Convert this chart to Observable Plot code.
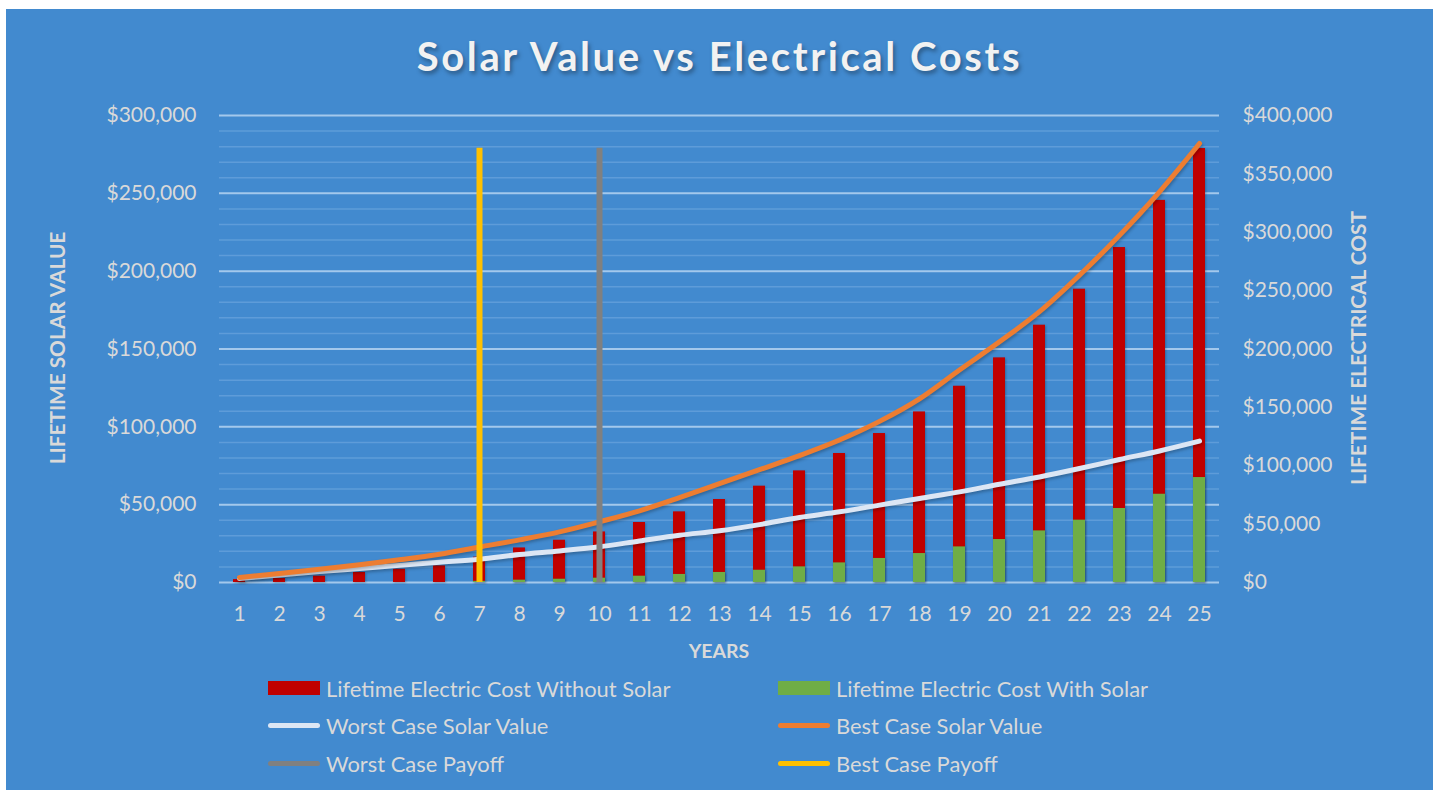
<!DOCTYPE html>
<html>
<head>
<meta charset="utf-8">
<script src="https://cdn.jsdelivr.net/npm/d3@7"></script>
<script src="https://cdn.jsdelivr.net/npm/@observablehq/plot@0.6"></script>
<style>
  html, body { margin: 0; padding: 0; background: #ffffff; }
  body { width: 1437px; height: 790px; position: relative; overflow: hidden; font-family: Lato, "Open Sans", sans-serif; }
  #panel { position: absolute; left: 6px; top: 9px; width: 1427px; height: 781px; background: #428ACF; }
  #title { position: absolute; left: 0; width: 1427px; top: 23px; text-align: center; color: #F2F2F2;
           font-weight: bold; font-size: 40px; letter-spacing: 2.6px; text-shadow: 2px 3px 4px rgba(0,0,0,0.35); }
  #chart { position: absolute; left: 0; top: 0; }
  #chart svg g[aria-label="bar"] rect { filter: drop-shadow(1px 1px 1px rgba(0,0,0,0.25)); }
  #chart svg g[aria-label="line"] path { filter: drop-shadow(1px 2px 1.5px rgba(0,0,0,0.25)); }
  .ytitle { position: absolute; color: #D9D9D9; font-weight: bold; font-size: 20.8px; white-space: nowrap; }
  #xtitle { position: absolute; color: #D9D9D9; font-weight: bold; font-size: 19.5px; }
  .leg { position: absolute; display: flex; align-items: center; color: #D9D9D9; font-size: 21.9px; white-space: nowrap; }
  .sw { width: 52px; margin-right: 6px; }
</style>
</head>
<body>
<div id="panel">
  <div id="title">Solar Value vs Electrical Costs</div>
  <div id="chart"></div>
</div>
<script>
// ---- data ----
const years = [1,2,3,4,5,6,7,8,9,10,11,12,13,14,15,16,17,18,19,20,21,22,23,24,25];
// right axis (lifetime electrical cost)
const costWithoutSolar = [2500,3400,5400,8600,11300,14200,21700,29600,36200,43300,51400,60500,71100,82500,95600,110500,127600,146100,168100,192400,220400,251200,286900,327300,371700];
const costWithSolar = [0,0,0,0,0,0,1000,2000,2800,3700,5400,6900,8600,10500,13400,16800,20600,24800,30500,36800,44200,53400,63400,75600,89900];
// left axis (lifetime solar value)
const bestCaseValue = [3200,5800,8500,11400,14600,18200,22800,27400,32500,39000,46000,54500,63500,72500,81500,91500,103500,118000,136500,154600,174000,197400,223000,251000,282000];
const worstCaseValue = [2600,4800,7000,9000,11000,13000,15000,18000,20300,22900,26700,30400,33200,37200,41800,45400,49700,54000,58200,63100,67800,73200,79000,84500,90800];
// payoff markers
const payoffYears = [10, 7];
const payoffNames = ["Worst Case Payoff", "Best Case Payoff"];
const payoffTop = 279000;
// tick labels
const leftTicks = [0,50000,100000,150000,200000,250000,300000];
const rightTicks = [0,50000,100000,150000,200000,250000,300000,350000,400000];
const minorGrid = [10000,20000,30000,40000,60000,70000,80000,90000,110000,120000,130000,140000,160000,170000,180000,190000,210000,220000,230000,240000,260000,270000,280000,290000];

const leftMax = 300000, rightMax = 400000;
const k = leftMax / rightMax; // right-axis values expressed on the left scale

const rows = years.map((y, i) => ({
  year: y,
  without: costWithoutSolar[i],
  withS: costWithSolar[i],
  best: bestCaseValue[i],
  worst: worstCaseValue[i]
}));
const payoffs = payoffYears.map((y, i) => ({year: y, name: payoffNames[i], top: payoffTop}));
const payoffColors = {"Worst Case Payoff": "#808080", "Best Case Payoff": "#FFC000"};

const money = d3.format(",");

const chart = Plot.plot({
  width: 1427,
  height: 660,
  marginLeft: 213,
  marginRight: 214,
  marginTop: 106,
  marginBottom: 87,
  style: {background: "transparent", color: "#D9D9D9", fontFamily: "Lato, 'Open Sans', sans-serif", fontSize: "21px", overflow: "visible"},
  x: {type: "band", domain: years, paddingInner: 0.7, paddingOuter: 0.35},
  y: {domain: [0, leftMax]},
  marks: [
    Plot.ruleY(minorGrid, {stroke: "#5E9CD9", strokeWidth: 1.5}),
    Plot.ruleY(leftTicks, {stroke: "#A3C8EC", strokeWidth: 2}),
    Plot.barY(rows, {x: "year", y: d => d.without * k, fill: "#C00000"}),
    Plot.barY(rows, {x: "year", y: d => d.withS * k, fill: "#6FAD46"}),
    Plot.line(rows, {x: "year", y: "worst", stroke: "#DCE6F4", strokeWidth: 5, curve: "monotone-x", strokeLinecap: "round"}),
    Plot.line(rows, {x: "year", y: "best", stroke: "#ED7D31", strokeWidth: 5, curve: "monotone-x", strokeLinecap: "round"}),
    Plot.ruleX(payoffs, {x: "year", y1: 0, y2: "top", stroke: d => payoffColors[d.name], strokeWidth: 6}),
    Plot.axisX({tickSize: 0, tickPadding: 24, label: null}),
    Plot.axisY(leftTicks, {anchor: "left", tickSize: 0, tickPadding: 23, label: null, tickFormat: d => "$" + money(d)}),
    Plot.axisY(rightTicks.map(d => d * k), {anchor: "right", tickSize: 0, tickPadding: 23, label: null, tickFormat: d => "$" + money(Math.round(d / k))})
  ]
});
document.getElementById("chart").append(chart);

const panel = document.getElementById("panel");
function addText(cls, text) {
  const el = document.createElement("div");
  el.className = cls; el.textContent = text;
  panel.append(el);
  return el;
}
// axis titles (positions relative to panel at 6,9)
const lt = addText("ytitle", "LIFETIME SOLAR VALUE");
lt.style.left = (56 - 6) + "px"; lt.style.top = (348 - 9) + "px";
lt.style.transform = "translate(-50%,-50%) rotate(-90deg)";
const rt = addText("ytitle", "LIFETIME ELECTRICAL COST");
rt.style.left = (1357 - 6) + "px"; rt.style.top = (348 - 9) + "px";
rt.style.transform = "translate(-50%,-50%) rotate(-90deg)";
const xt = addText("", "YEARS");
xt.id = "xtitle"; xt.style.left = (719 - 6) + "px"; xt.style.top = (650 - 9) + "px"; xt.style.transform = "translate(-50%,-50%)";

// legend
const legendItems = [
  {label: "Lifetime Electric Cost Without Solar", color: "#C00000", kind: "bar", x: 268, y: 688},
  {label: "Lifetime Electric Cost With Solar", color: "#6FAD46", kind: "bar", x: 778, y: 688},
  {label: "Worst Case Solar Value", color: "#DCE6F4", kind: "line", x: 268, y: 725},
  {label: "Best Case Solar Value", color: "#ED7D31", kind: "line", x: 778, y: 725},
  {label: "Worst Case Payoff", color: "#808080", kind: "line", x: 268, y: 763},
  {label: "Best Case Payoff", color: "#FFC000", kind: "line", x: 778, y: 763}
];
for (const it of legendItems) {
  const el = document.createElement("div");
  el.className = "leg";
  el.style.left = (it.x - 6) + "px";
  el.style.top = (it.y - 9 - 14) + "px";
  el.style.height = "28px";
  const sw = document.createElement("div");
  sw.className = "sw";
  sw.style.background = it.color;
  if (it.kind === "bar") { sw.style.height = "14px"; }
  else { sw.style.height = "5px"; sw.style.borderRadius = "3px"; }
  const tx = document.createElement("span");
  tx.textContent = it.label;
  el.append(sw, tx);
  panel.append(el);
}
</script>
</body>
</html>
